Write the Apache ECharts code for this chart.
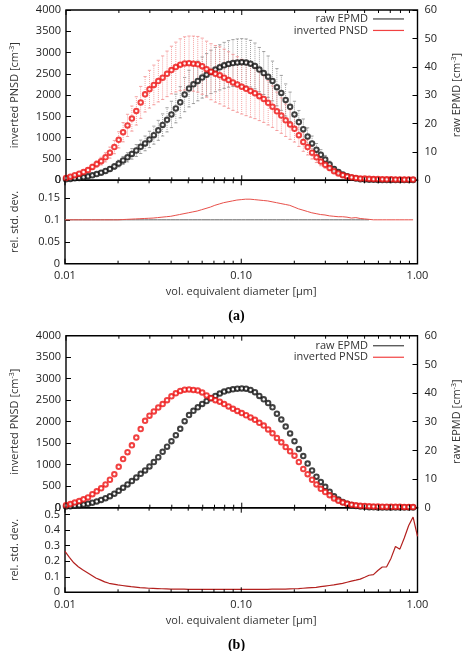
<!DOCTYPE html>
<html>
<head>
<meta charset="utf-8">
<script src="https://cdn.jsdelivr.net/npm/echarts@6/dist/echarts.min.js"></script>
<style>
html,body{margin:0;padding:0;background:#fff}
#chart{width:473px;height:651px}
</style>
</head>
<body>
<div id="chart"></div>
<script>
// vol. equivalent diameter [µm], log spaced bins
var diameters = [0.01,0.01059,0.01122,0.01189,0.01259,0.01334,0.01413,0.01496,0.01585,0.01679,
  0.01778,0.01884,0.01995,0.02113,0.02239,0.02371,0.02512,0.02661,0.02818,0.02985,
  0.03162,0.03350,0.03548,0.03758,0.03981,0.04217,0.04467,0.04732,0.05012,0.05309,
  0.05623,0.05957,0.06310,0.06683,0.07079,0.07499,0.07943,0.08414,0.08913,0.09441,
  0.1,0.1059,0.1122,0.1189,0.1259,0.1334,0.1413,0.1496,0.1585,0.1679,
  0.1778,0.1884,0.1995,0.2113,0.2239,0.2371,0.2512,0.2661,0.2818,0.2985,
  0.3162,0.3350,0.3548,0.3758,0.3981,0.4217,0.4467,0.4732,0.5012,0.5309,
  0.5623,0.5957,0.6310,0.6683,0.7079,0.7499,0.7943,0.8414,0.8913,0.9441,1.0];

// inverted PNSD [cm-3] (left axis)
var invertedPNSD = [55,85,120,155,195,240,315,380,450,540,
  650,780,950,1130,1290,1450,1630,1830,2020,2140,
  2240,2330,2410,2500,2590,2660,2715,2745,2750,2740,
  2725,2680,2610,2550,2500,2465,2410,2355,2300,2250,
  2200,2150,2100,2045,1975,1910,1820,1730,1620,1520,
  1410,1310,1210,1060,900,780,650,540,440,365,
  290,215,160,120,90,70,55,45,40,35,
  30,28,25,24,22,20,20,18,18,16,null];

// raw EPMD [cm-3] (right axis)
var rawEPMD = [0.4,0.5,0.7,0.85,1.1,1.4,1.75,2.2,2.7,3.3,
  4.0,4.9,5.9,7.0,8.1,9.3,10.5,11.8,13.0,14.4,
  15.9,17.6,19.5,21.3,23.2,25.3,27.5,30.2,32.3,33.8,
  35.0,36.2,37.2,38.2,39.0,39.8,40.5,41.0,41.3,41.5,
  41.6,41.5,41.1,40.3,39.0,37.8,36.5,35.0,32.8,30.8,
  28.3,25.9,23.2,20.5,18.0,15.4,13.0,10.8,9.0,7.3,
  5.6,4.0,2.9,2.0,1.4,0.9,0.6,0.4,0.3,0.2,
  0.2,0.1,0.1,0.1,0.1,0.1,0.1,0.1,0.1,0.1,null];

// rel. std. dev. (a)
var relStdEPMD_a = [0.1,0.1,0.1,0.1,0.1,0.1,0.1,0.1,0.1,0.1,
  0.1,0.1,0.1,0.1,0.1,0.1,0.1,0.1,0.1,0.1,
  0.1,0.1,0.1,0.1,0.1,0.1,0.1,0.1,0.1,0.1,
  0.1,0.1,0.1,0.1,0.1,0.1,0.1,0.1,0.1,0.1,
  0.1,0.1,0.1,0.1,0.1,0.1,0.1,0.1,0.1,0.1,
  0.1,0.1,0.1,0.1,0.1,0.1,0.1,0.1,0.1,0.1,
  0.1,0.1,0.1,0.1,0.1,0.1,0.1,0.1,0.1,0.1,
  null,null,null,null,null,null,null,null,null,null,null];
var relStdPNSD_a = [0.100,0.100,0.100,0.100,0.100,0.100,0.100,0.100,0.100,0.100,
  0.100,0.100,0.100,0.1005,0.101,0.1015,0.102,0.1025,0.103,0.1035,
  0.104,0.105,0.106,0.107,0.108,0.110,0.112,0.114,0.116,0.118,
  0.120,0.123,0.126,0.129,0.133,0.136,0.139,0.141,0.143,0.145,
  0.146,0.147,0.147,0.146,0.145,0.144,0.143,0.141,0.139,0.137,
  0.135,0.133,0.129,0.125,0.122,0.119,0.116,0.114,0.112,0.111,
  0.109,0.108,0.107,0.107,0.106,0.104,0.105,0.103,0.102,0.101,
  0.100,0.100,0.100,0.100,0.100,0.100,0.100,0.100,0.100,0.100,null];

// rel. std. dev. (b)
var relStdPNSD_b = [0.263,0.225,0.190,0.165,0.145,0.128,0.110,0.092,0.080,0.067,
  0.058,0.053,0.048,0.044,0.040,0.036,0.033,0.030,0.028,0.026,
  0.025,0.024,0.023,0.022,0.021,0.020,0.020,0.020,0.019,0.019,
  0.019,0.019,0.019,0.019,0.019,0.019,0.019,0.019,0.019,0.019,
  0.019,0.019,0.019,0.019,0.019,0.019,0.019,0.020,0.020,0.020,
  0.021,0.022,0.023,0.024,0.026,0.028,0.030,0.032,0.036,0.040,
  0.044,0.048,0.053,0.058,0.065,0.072,0.078,0.085,0.097,0.110,
  0.114,0.140,0.163,0.164,0.220,0.295,0.278,0.350,0.430,0.485,0.360];

// tick labels
var xTickLabels = ['0.01', '0.10', '1.00'];
var errSigma = 2; // error bars = +-2 rel. std. dev.

var FONT = '"Open Sans", "DejaVu Sans", sans-serif';

function pairs(ys){
  var out = [];
  for(var i=0;i<diameters.length;i++){
    if(ys[i] != null) out.push([diameters[i], ys[i]]);
  }
  return out;
}
function errData(ys, rel){
  var out = [];
  for(var i=0;i<diameters.length;i++){
    if(ys[i] == null || rel[i] == null) continue;
    var e = ys[i]*errSigma*rel[i];
    out.push([diameters[i], ys[i]-e, ys[i]+e]);
  }
  return out;
}
function renderErr(params, api){
  var lo = api.coord([api.value(0), api.value(1)]);
  var hi = api.coord([api.value(0), api.value(2)]);
  var c = api.visual('color');
  var hw = 1.6;
  return {type:'group', children:[
    {type:'line', shape:{x1:lo[0],y1:lo[1],x2:hi[0],y2:hi[1]}, style:{stroke:c, lineWidth:0.8, lineDash:[1,1]}},
    {type:'line', shape:{x1:hi[0]-hw,y1:hi[1],x2:hi[0]+hw,y2:hi[1]}, style:{stroke:c,lineWidth:0.8}},
    {type:'line', shape:{x1:lo[0]-hw,y1:lo[1],x2:lo[0]+hw,y2:lo[1]}, style:{stroke:c,lineWidth:0.8}}
  ]};
}

// log x ticks: decades (long) and 2..9 (short), mirrored on top and bottom of every panel
var xTicks = [];
[0.01,0.1].forEach(function(dec){
  xTicks.push([dec, 0, 1]);
  for(var m=2;m<=9;m++) xTicks.push([m*dec, 0, 0]);
});
xTicks.push([1, 0, 1]);
function renderTick(params, api){
  var cs = params.coordSys;
  var x = api.coord([api.value(0), api.value(1)])[0];
  var len = api.value(2) ? 5 : 3;
  var yb = cs.y + cs.height, yt = cs.y;
  return {type:'group', children:[
    {type:'line', shape:{x1:x,y1:yb,x2:x,y2:yb-len}, style:{stroke:'#000', lineWidth:1}},
    {type:'line', shape:{x1:x,y1:yt,x2:x,y2:yt+len}, style:{stroke:'#000', lineWidth:1}}
  ]};
}

var grids = [
  {left:65, right:55.5, top:10, height:170.3},
  {left:65, right:55.5, top:180.3, height:83.4},
  {left:65, right:55.5, top:335.7, height:172},
  {left:65, right:55.5, top:507.7, height:84.6}
].map(function(g){ return Object.assign({show:true, borderColor:'#000', borderWidth:1.4}, g); });

var xAxes = grids.map(function(g, gi){
  var withLabels = (gi % 2 === 1);
  return {
    type:'log', logBase:10, min:0.01, max:1, gridIndex:gi,
    axisLine:{show:false},
    axisTick:{show:false},
    axisLabel:{show: withLabels, margin:7, color:'#222', fontSize:11, fontFamily:FONT,
      formatter:function(v){ var l = Math.round(Math.log10(v)) + 2; return xTickLabels[l]; }},
    splitLine:{show:false},
    name: withLabels ? 'vol. equivalent diameter [µm]' : '',
    nameLocation:'middle', nameGap:23,
    nameTextStyle:{color:'#333', fontSize:11, fontFamily:FONT}
  };
});

function fmtNum(v){ return String(+(+v).toFixed(3)); }
var supRich = {sup:{fontSize:7, fontFamily:FONT, color:'#333', padding:[0,0,6,0]}};
function yAxis(gi, pos, max, interval, name, gap, margin, hideMax){
  return {type:'value', gridIndex:gi, position:pos, min:0, max:max, interval:interval,
    axisLine:{show:false},
    axisTick:{show:true, inside:true, length:5, lineStyle:{color:'#000'}},
    axisLabel:{margin:margin, color:'#222', fontSize:11, fontFamily:FONT, formatter:fmtNum,
      showMinLabel:true, showMaxLabel:!hideMax},
    splitLine:{show:false},
    name:name, nameLocation:'middle', nameRotate:90, nameGap:gap,
    nameTextStyle:{color:'#333', fontSize:11, fontFamily:FONT, rich:supRich}};
}
var yAxes = [
  yAxis(0, 'left', 4000, 500, 'inverted PNSD [cm{sup|-3}]', 45, 5, false),
  yAxis(0, 'right', 60, 10, 'raw EPMD [cm{sup|-3}]', 33, 7, false),
  yAxis(1, 'left', 0.19, 0.05, 'rel. std. dev.', 45, 5, true),
  yAxis(2, 'left', 4000, 500, 'inverted PNSD [cm{sup|-3}]', 45, 5, false),
  yAxis(2, 'right', 60, 10, 'raw EPMD [cm{sup|-3}]', 33, 7, false),
  yAxis(3, 'left', 0.545, 0.1, 'rel. std. dev.', 45, 5, true)
];
var leftY = [0, 2, 3, 5];

function scatter(name, data, xi, yi, color){
  return {name:name, type:'scatter', xAxisIndex:xi, yAxisIndex:yi, data:data,
    symbol:'emptyCircle', symbolSize:4.5, itemStyle:{color:color, borderColor:color, borderWidth:1.1},
    emphasis:{disabled:true}, z:3};
}
function line(name, data, xi, yi, color, w){
  return {name:name, type:'line', xAxisIndex:xi, yAxisIndex:yi, data:data, showSymbol:false,
    lineStyle:{color:color, width:w}, itemStyle:{color:color}, emphasis:{disabled:true}, z:3};
}

var series = [
  {type:'custom', name:'err EPMD', xAxisIndex:0, yAxisIndex:1, renderItem:renderErr,
    data:errData(rawEPMD, relStdEPMD_a), encode:{x:0, y:[1,2]}, itemStyle:{color:'#8a8a8a'}, z:1, silent:true},
  {type:'custom', name:'err PNSD', xAxisIndex:0, yAxisIndex:0, renderItem:renderErr,
    data:errData(invertedPNSD, relStdPNSD_a), encode:{x:0, y:[1,2]}, itemStyle:{color:'#f28c8c'}, z:1, silent:true},
  scatter('raw EPMD', pairs(rawEPMD), 0, 1, '#111'),
  scatter('inverted PNSD', pairs(invertedPNSD), 0, 0, '#ee1111'),
  line('rel EPMD a', pairs(relStdEPMD_a), 1, 2, '#666', 1),
  line('rel PNSD a', pairs(relStdPNSD_a), 1, 2, '#e8504a', 1),
  scatter('raw EPMD', pairs(rawEPMD), 2, 4, '#111'),
  scatter('inverted PNSD', pairs(invertedPNSD), 2, 3, '#ee1111'),
  line('rel PNSD b', pairs(relStdPNSD_b), 3, 5, '#b3201e', 1.2)
];
grids.forEach(function(g, gi){
  series.push({type:'custom', name:'xticks'+gi, xAxisIndex:gi, yAxisIndex:leftY[gi], renderItem:renderTick,
    data:xTicks, encode:{x:0, y:1}, silent:true, clip:false, z:5});
});

function legend(top){
  return {orient:'vertical', align:'right', right:69, top:top, padding:0, itemGap:0,
    itemWidth:31, itemHeight:1.2, selectedMode:false,
    textStyle:{color:'#333', fontSize:11, lineHeight:11.5, fontFamily:FONT},
    data:[{name:'raw EPMD', icon:'rect', itemStyle:{color:'#111', borderWidth:0}},
          {name:'inverted PNSD', icon:'rect', itemStyle:{color:'#ee1111', borderWidth:0}}]};
}

var panelTags = [
  {type:'text', left:'center', top:309, style:{text:'(a)', font:'bold 14px "Liberation Serif", serif', fill:'#000'}},
  {type:'text', left:'center', top:638, style:{text:'(b)', font:'bold 14px "Liberation Serif", serif', fill:'#000'}}
];

var chart = echarts.init(document.getElementById('chart'), null, {renderer:'canvas'});
chart.setOption({
  animation:false,
  backgroundColor:'#fff',
  grid:grids,
  xAxis:xAxes,
  yAxis:yAxes,
  legend:[legend(13.2), legend(340)],
  series:series,
  graphic:panelTags
});

// the "0" label of the upper PNSD axes gets dropped where the panels meet; put it back at the axis position
var zeroLabels = [[0, 0], [2, 3]].map(function(ix){
  var px = chart.convertToPixel({xAxisIndex:ix[0]}, 0.01);
  var py = chart.convertToPixel({yAxisIndex:ix[1]}, 0);
  return {type:'text', x:px-5, y:py, z:10,
    style:{text:fmtNum(0), align:'right', verticalAlign:'middle', font:'11px ' + FONT, fill:'#222'}};
});
chart.setOption({graphic:panelTags.concat(zeroLabels)});
</script>
</body>
</html>
